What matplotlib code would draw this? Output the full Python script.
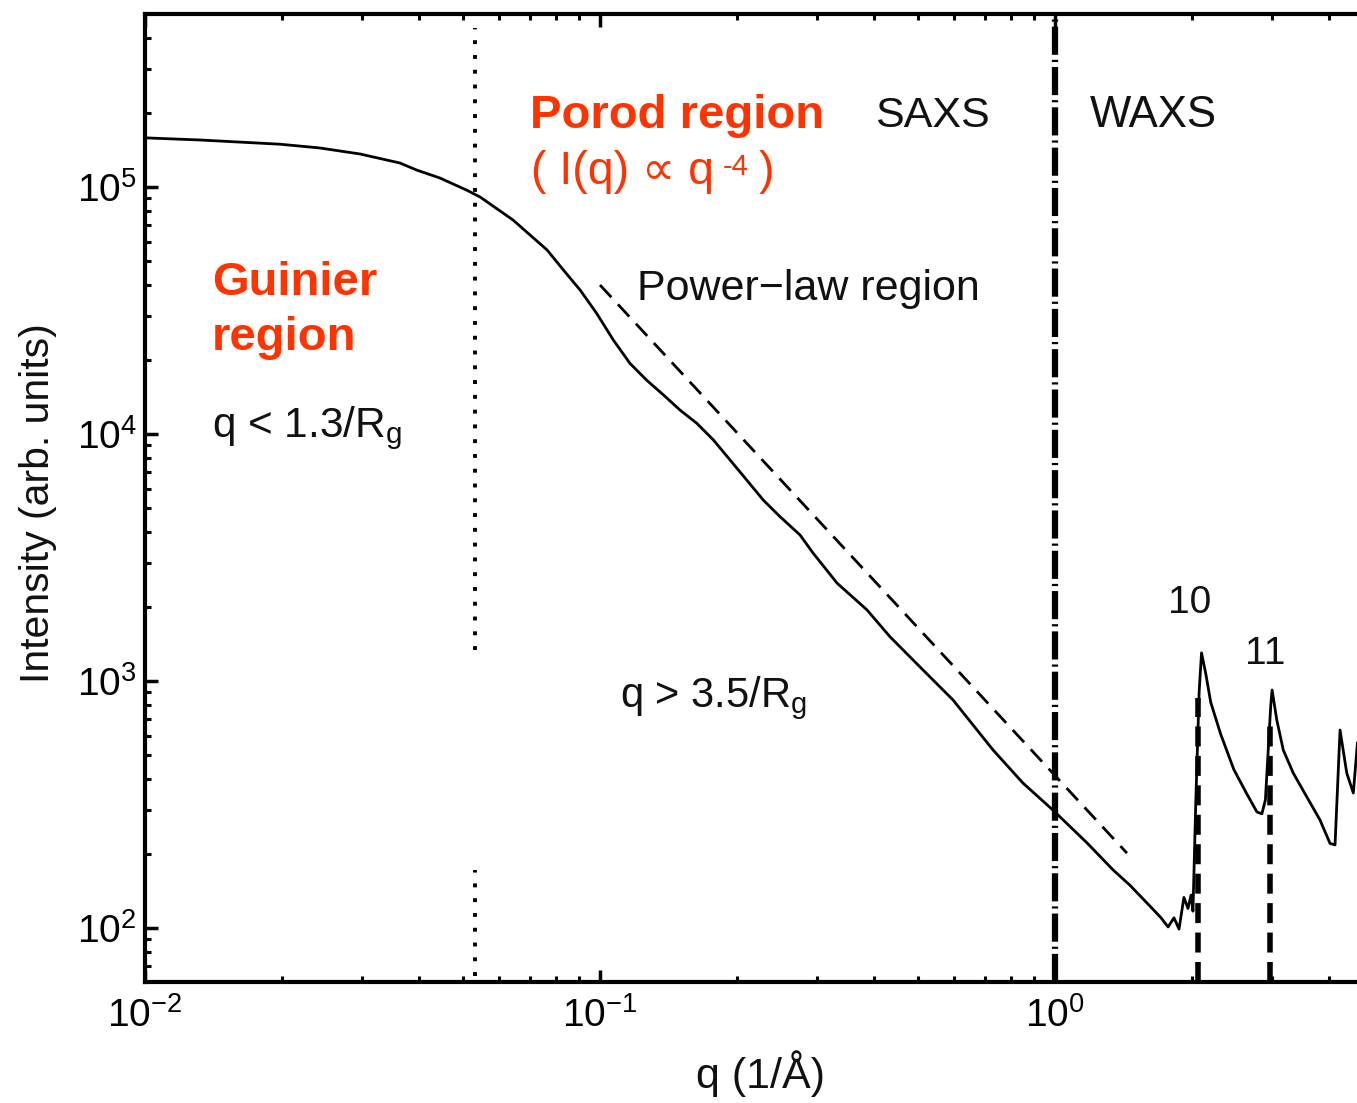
import numpy as np
import matplotlib
matplotlib.use("Agg")
import matplotlib.pyplot as plt

plt.rcParams['font.family'] = ['Liberation Sans', 'DejaVu Sans']
plt.rcParams['mathtext.fontset'] = 'custom'
plt.rcParams['mathtext.rm'] = 'Liberation Sans'
plt.rcParams['mathtext.it'] = 'Liberation Sans:italic'
plt.rcParams['mathtext.default'] = 'regular'

# SAXS / WAXS intensity profile
q = [0.0101, 0.0132, 0.0198, 0.0242, 0.0297, 0.0363, 0.0396, 0.0445, 0.0510,
     0.0545, 0.0644, 0.0702, 0.0765, 0.0831, 0.0904, 0.0983, 0.1070, 0.1164,
     0.1267, 0.1378, 0.1499, 0.1632, 0.1775, 0.1931, 0.2101, 0.2285, 0.2486,
     0.2752, 0.2938, 0.3319, 0.3862, 0.4339, 0.5050, 0.5968, 0.7306, 0.8505,
     0.990, 1.176, 1.341, 1.461, 1.601, 1.710, 1.772, 1.826, 1.873, 1.920,
     1.960, 1.991, 2.010, 2.040, 2.074, 2.099, 2.145, 2.199, 2.312, 2.472,
     2.642, 2.778, 2.849, 2.900, 2.980, 3.000, 3.072, 3.175, 3.341, 3.574,
     3.822, 4.022, 4.125, 4.231, 4.377, 4.525, 4.62]
intensity = [158000, 155000, 149000, 143900, 136000, 125100, 117000, 108700, 97000,
             91100, 73500, 63900, 55600, 46100, 38300, 30800, 24000, 19300,
             16500, 14400, 12500, 11050, 9460, 7850, 6510, 5400, 4630,
             3900, 3300, 2490, 1940, 1510, 1140, 838, 526, 386,
             300, 221, 172, 149, 125, 110, 101, 110, 99, 133,
             120, 136, 117, 336, 906, 1300, 1068, 820, 610, 438,
             348, 295, 290, 330, 800, 919, 695, 525, 423, 340,
             274, 220, 217, 633, 424, 352, 560]

# q^-4 guide line (end points)
porod_q = [0.1, 1.439]
porod_i = [40100, 201]

# region boundaries
guinier_q = 0.0531
saxs_waxs_q = 1.0
peak_q = [2.057, 2.968]
peak_top = [850, 700]
peak_labels = ['10', '11']

W, H = 1357, 1103
RED = '#ff3300'
INK = '#111111'

fig = plt.figure(figsize=(W / 100, H / 100), dpi=100)
ax = fig.add_axes([145 / W, 1 - 982 / H, (W - 145) / W, (982 - 14) / H])

ax.set_xscale('log')
ax.set_yscale('log')
ax.set_xlim(0.01, 4.61)
ax.set_ylim(60.45, 5.016e5)

ax.plot(q, intensity, color='black', lw=2.0)
ax.plot(porod_q, porod_i, color='black', lw=2.0, linestyle=(0, (6, 3.5)))

# Guinier limit (dotted, interrupted by the label box)
ax.plot([guinier_q, guinier_q], [1335, 4.4e5], color='black', lw=2.8,
        linestyle=(0, (1, 2.8)))
ax.plot([guinier_q, guinier_q], [64, 172], color='black', lw=2.8,
        linestyle=(0, (1, 2.8)))

# SAXS / WAXS boundary
ax.plot([saxs_waxs_q, saxs_waxs_q], [60.45, 4.8e5], color='black', lw=4.5,
        linestyle=(0, (4.5, 0.8, 0.35, 0.8)))

# Bragg peak markers
for pq, top in zip(peak_q, peak_top):
    ax.plot([pq, pq], [60.45, top], color='black', lw=4,
            linestyle=(0, (3.6, 1.7)))

for side in ['top', 'bottom', 'left']:
    ax.spines[side].set_linewidth(3)
ax.spines['right'].set_visible(False)

ax.tick_params(which='both', direction='in', top=True, right=False,
               labelsize=28, colors='black')
ax.tick_params(which='major', length=9, width=2.5)
ax.tick_params(which='minor', length=4.5, width=2.2)
ax.tick_params(axis='x', which='major', pad=11)
ax.tick_params(axis='y', which='major', pad=6)
ax.set_xticks([0.01, 0.1, 1])
ax.set_yticks([1e2, 1e3, 1e4, 1e5])

ax.set_xlabel('q (1/Å)', fontsize=31, color=INK)
ax.set_ylabel('Intensity (arb. units)', fontsize=29.5, color=INK)
ax.xaxis.set_label_coords((760 - 145) / 1212, (982 - 1050) / 968)
ax.yaxis.set_label_coords((57 - 145) / 1212, (982 - 503) / 968)


def ftext(x, y, s, **kw):
    return fig.text(x / W, 1 - y / H, s, va='baseline', ha='left', **kw)


ftext(530, 128, 'Porod region', fontsize=34, fontweight='bold', color=RED)
t1 = ftext(531, 184, '( I(q) ∝ q', fontsize=33.5, color=RED)
t2 = ax.annotate('-4', xy=(1, 0), xycoords=t1, xytext=(9, 13),
                 textcoords='offset pixels', fontsize=21, color=RED,
                 va='bottom', ha='left')
ax.annotate(')', xy=(1, 0), xycoords=(t2, t1), xytext=(10, 0),
            textcoords='offset pixels', fontsize=33.5, color=RED,
            va='bottom', ha='left')
ftext(875, 127, 'SAXS', fontsize=31, color=INK)
ftext(1090, 127, 'WAXS', fontsize=31.5, color=INK)
ftext(637, 300, 'Power\u2212law region', fontsize=31, color=INK)
ftext(212, 295, 'Guinier', fontsize=34, fontweight='bold', color=RED)
ftext(212, 350, 'region', fontsize=34, fontweight='bold', color=RED)
ftext(212, 437, 'q < 1.3/R$_{g}$', fontsize=30.5, color=INK)
ftext(620, 707, 'q > 3.5/R$_{g}$', fontsize=30, color=INK)
ftext(1168, 613, peak_labels[0], fontsize=28, color=INK)
ftext(1245, 664, peak_labels[1], fontsize=28, color=INK)

fig.savefig('out.png', dpi=100)
